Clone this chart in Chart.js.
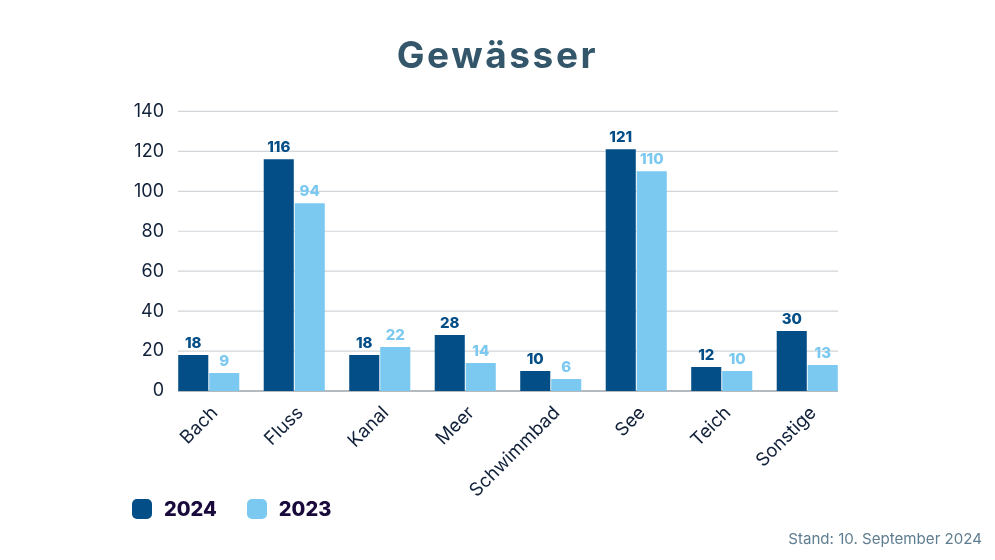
<!DOCTYPE html>
<html>
<head>
<meta charset="utf-8">
<script src="https://cdn.jsdelivr.net/npm/chart.js@4"></script>
<style>
  html, body { margin: 0; background: #fff; }
  #wrap { position: relative; width: 995px; height: 560px; font-family: Inter, "Open Sans", sans-serif; }
  h1 { position: absolute; left: 0; width: 995px; top: 33px; margin: 0; text-align: center; font-size: 37px; line-height: 44px; font-weight: 700; letter-spacing: 2.6px; color: #33566b; }
  #legend { position: absolute; left: 132px; top: 499px; display: flex; }
  #legend div { display: flex; align-items: center; height: 20px; margin-right: 30px; font-weight: 800; font-size: 20px; color: #1a0a3c; }
  #legend span { width: 20px; height: 20px; border-radius: 5px; margin-right: 12px; }
  #stand { position: absolute; right: 13px; top: 529px; font-size: 15.1px; color: #5f7d90; }
</style>
</head>
<body>
<div id="wrap">
  <canvas id="gewaesserChart" width="995" height="560"></canvas>
  <h1>Gewässer</h1>
  <div id="legend"></div>
  <div id="stand">Stand: 10. September 2024</div>
</div>
<script>
const categories = ['Bach','Fluss','Kanal','Meer','Schwimmbad','See','Teich','Sonstige'];
const values2024 = [18,116,18,28,10,121,12,30];
const values2023 = [9,94,22,14,6,110,10,13];
const yTicks = [0,20,40,60,80,100,120,140];
const seriesNames = ['2024','2023'];
const seriesColors = ['#034e87','#7bc9f1'];

// grid stops short of the plot edges, first and last bar sit flush with its ends
const gridLines = {
    id: 'gridLines',
    beforeDatasetsDraw(chart) {
        const { ctx, scales: { y } } = chart;
        ctx.save();
        yTicks.forEach(t => {
            const py = y.getPixelForValue(t);
            ctx.beginPath();
            ctx.strokeStyle = t === 0 ? '#b5babf' : '#d2d6d9';
            ctx.lineWidth = t === 0 ? 2 : 1.2;
            ctx.moveTo(178, py);
            ctx.lineTo(838, py);
            ctx.stroke();
        });
        ctx.restore();
    }
};

const barLabels = {
    id: 'barLabels',
    afterDatasetsDraw(chart) {
        const { ctx } = chart;
        ctx.save();
        ctx.font = '800 15px Inter';
        ctx.textAlign = 'center';
        ctx.textBaseline = 'bottom';
        chart.data.datasets.forEach((ds, i) => {
            ctx.fillStyle = ds.backgroundColor;
            chart.getDatasetMeta(i).data.forEach((bar, j) => {
                ctx.fillText(ds.data[j], bar.x, bar.y - 4);
            });
        });
        ctx.restore();
    }
};

new Chart(document.getElementById('gewaesserChart'), {
    type: 'bar',
    data: {
        labels: categories,
        datasets: [
            { label: seriesNames[0], data: values2024, backgroundColor: seriesColors[0] },
            { label: seriesNames[1], data: values2023, backgroundColor: seriesColors[1] }
        ]
    },
    plugins: [gridLines, barLabels],
    options: {
        responsive: false,
        animation: false,
        categoryPercentage: 0.725,
        barPercentage: 0.97,
        plugins: {
            legend: { display: false },
            tooltip: { enabled: false }
        },
        scales: {
            x: {
                grid: { display: false, tickLength: 0 },
                border: { display: false },
                ticks: {
                    minRotation: 45,
                    maxRotation: 45,
                    padding: 11,
                    labelOffset: 6,
                    color: '#12213a',
                    font: { family: 'Inter', size: 18.5 }
                },
                afterFit(scale) { scale.height = 169; }
            },
            y: {
                min: 0,
                max: 140,
                grid: { display: false, tickLength: 0 },
                border: { display: false },
                ticks: {
                    stepSize: 20,
                    padding: 2,
                    color: '#12213a',
                    font: { family: 'Inter', size: 18 }
                },
                afterFit(scale) { scale.width = 166; }
            }
        },
        layout: { padding: { left: 0, right: 145, top: 111.4, bottom: 0 } }
    }
});

document.getElementById('legend').innerHTML = seriesNames.map((name, i) =>
    `<div><span style="background:${seriesColors[i]}"></span>${name}</div>`).join('');
</script>
</body>
</html>
